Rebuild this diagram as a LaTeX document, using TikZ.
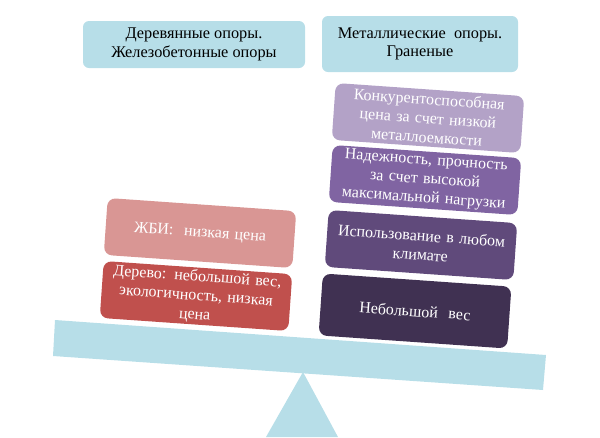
\documentclass[tikz,border=0pt]{standalone}
\usepackage{fontspec}
\setmainfont{Liberation Serif}
\newfontfamily\tnr{Liberation Serif}
\definecolor{hdr}{HTML}{B7DEE8}
\definecolor{pA}{HTML}{B3A2C7}
\definecolor{pB}{HTML}{8064A2}
\definecolor{pC}{HTML}{604A7B}
\definecolor{pD}{HTML}{403152}
\definecolor{rA}{HTML}{D99694}
\definecolor{rB}{HTML}{C0504D}
\tikzset{
  hdrbox/.style={fill=hdr, rounded corners=6pt, text=black, align=center,
    font=\tnr\fontsize{16.3}{18.5}\selectfont, inner sep=0pt},
  card/.style={rounded corners=8pt, text=white, align=center, rotate=-4,
    minimum width=189pt, minimum height=57pt, text width=184pt, inner sep=0pt,
    font=\tnr\fontsize{16}{19}\selectfont}
}
\begin{document}
\begin{tikzpicture}[x=1pt,y=-1pt]
\useasboundingbox (0,0) rectangle (600,437);
% headers
\node[hdrbox, minimum width=222pt, minimum height=47pt] (hl) at (194,44.5) {Деревянные опоры.\\Железобетонные опоры};
\node[hdrbox, minimum width=196pt, minimum height=56pt] (hr) at (420,44) {Металлические\ \ опоры.\\Граненые};
% fulcrum and beam
\fill[hdr] (303,372) -- (338,437) -- (266,437) -- cycle;
\fill[hdr] (55,320) -- (546,355) -- (543,390) -- (53,356) -- cycle;
% right stack
\node[card, fill=pA] (r1) at (428,118) {Конкурентоспособная\\цена за счет низкой\\металлоемкости};
\node[card, fill=pB] (r2) at (425,180) {Надежность, прочность\\за счет высокой\\максимальной нагрузки};
\node[card, fill=pC] (r3) at (421,245) {Использование в любом\\климате};
\node[card, fill=pD, minimum height=62pt] (r4) at (415,311) {Небольшой\ \ вес};
% left stack
\node[card, fill=rA] (l1) at (200,233) {ЖБИ:\ \ низкая цена};
\node[card, fill=rB] (l2) at (196,296) {Дерево: небольшой вес,\\экологичность, низкая\\цена};
\end{tikzpicture}
\end{document}
